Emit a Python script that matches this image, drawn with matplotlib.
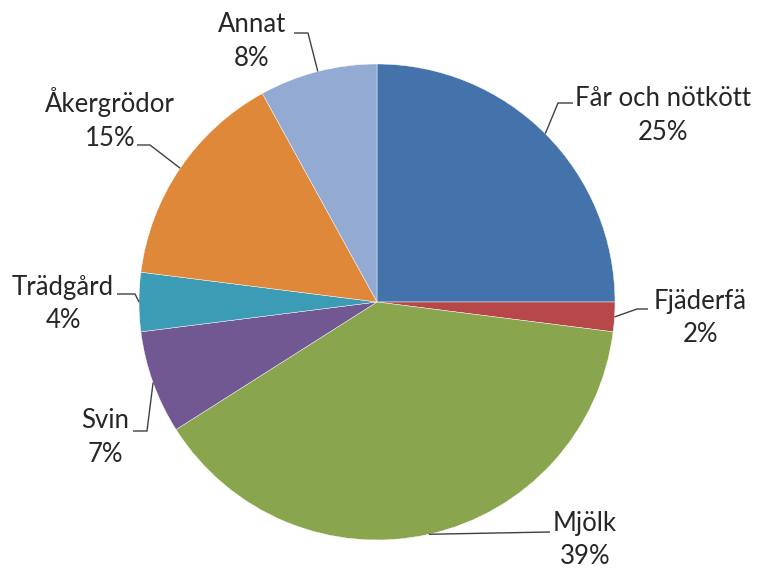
import numpy as np
import matplotlib
matplotlib.use("Agg")
import matplotlib.pyplot as plt

categories = ["Får och nötkött", "Fjäderfä", "Mjölk", "Svin", "Trädgård", "Åkergrödor", "Annat"]
values = [25, 2, 39, 7, 4, 15, 8]
colors = ["#4373AA", "#B8474A", "#89A64E", "#715893", "#3C9BB5", "#E0883A", "#93AAD3"]

W, H = 758, 572
cx, cy, R = 377, 302, 238

# label layout (pixel coords, y down): text centre, leader end, knee
label_pos = [(663, 116), (700, 318), (585, 540), (105, 437), (63, 304), (110, 119), (252, 42)]
leader_end = [(573, 103), (648, 309), (550, 532), (133, 431), (117, 294), (137, 145), (294, 33)]
leader_knee = [(558, 103), (637, 309), (550, 532), (147, 431), (135, 294), (150, 145), (308, 33)]

fig = plt.figure(figsize=(W / 100, H / 100), dpi=100)
ax = fig.add_axes([0, 0, 1, 1])
wedges, _ = ax.pie(values, colors=colors, startangle=90, counterclock=False,
                   center=(cx, H - cy), radius=R,
                   wedgeprops=dict(edgecolor="white", linewidth=0.3))
ax.set_xlim(0, W)
ax.set_ylim(0, H)
ax.set_aspect("equal")
ax.axis("off")

font = dict(family=["Lato", "DejaVu Sans"], fontsize=18.5, color="#262626")
total = sum(values)
for i, (w, cat, v) in enumerate(zip(wedges, categories, values)):
    mid = np.deg2rad((w.theta1 + w.theta2) / 2)
    ex = cx + R * np.cos(mid)
    ey = H - cy + R * np.sin(mid)
    kx, ky = leader_knee[i]
    lx, ly = leader_end[i]
    ax.plot([ex, kx, lx], [ey, H - ky, H - ly], color="#404040", lw=1.0,
            solid_capstyle="butt")
    tx, ty = label_pos[i]
    ax.text(tx, H - ty, f"{cat}\n{round(100 * v / total)}%", ha="center", va="center",
            linespacing=1.45, **font)

fig.savefig("out.png", dpi=100, facecolor="white")
